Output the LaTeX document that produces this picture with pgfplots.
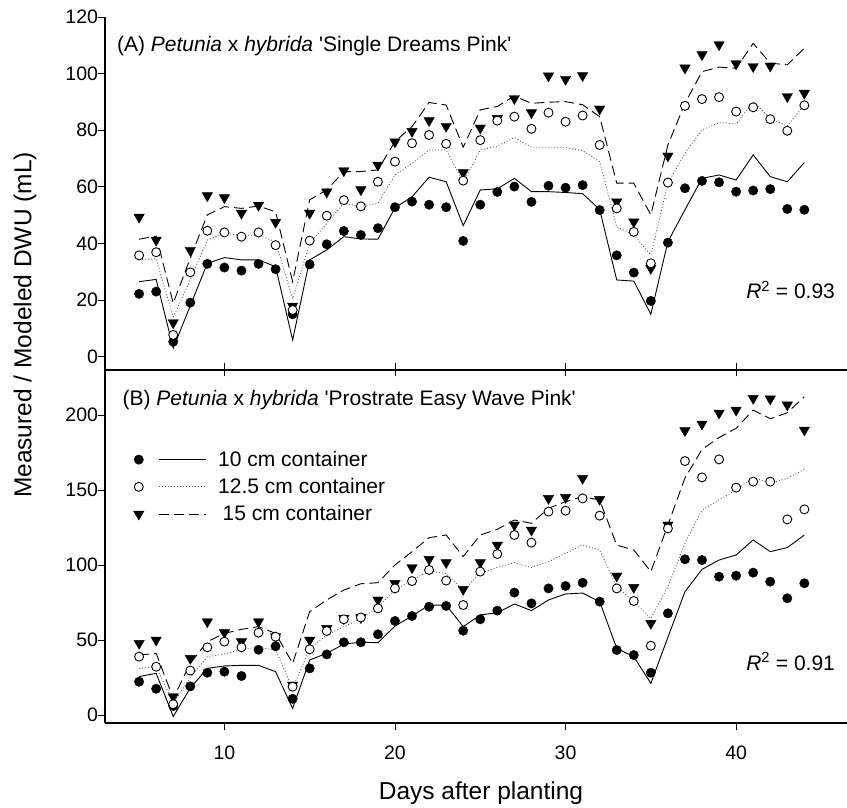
\documentclass[border=0pt]{standalone}
\usepackage{fontspec}
\setmainfont{Liberation Sans}
\usepackage{pgfplots}
\pgfplotsset{compat=1.18}
\usepackage{pgfplotstable}

% day, measured (m) and modeled (s) DWU for 10, 12.5 and 15 cm containers
\pgfplotstableread{
day m10 m125 m15 s10 s125 s15
5 22.2 35.8 49.3 26.5 34.3 41.5
6 23.0 36.9 41.2 27.3 34.6 42.6
7 5.3 7.7 12.0 3.0 14.0 18.9
8 19.1 29.8 37.6 18.0 27.1 34.8
9 32.8 44.5 56.9 33.0 41.2 50.1
10 31.5 43.9 56.2 35.0 43.6 53.0
11 30.4 42.4 50.7 34.2 42.9 52.4
12 32.8 43.9 53.5 34.2 42.9 53.2
13 30.9 39.4 47.5 31.8 40.6 51.2
14 15.0 16.5 17.9 5.9 20.5 26.5
15 32.6 41.0 50.7 34.2 40.0 55.4
16 39.7 49.8 58.2 37.7 47.1 58.9
17 44.4 55.3 65.7 42.4 54.2 65.4
18 43.0 53.1 59.0 41.6 53.0 65.4
19 45.4 61.8 67.7 41.5 54.2 66.0
20 52.8 68.9 75.9 52.6 64.2 76.0
21 54.8 75.4 79.6 56.5 68.3 81.3
22 53.7 78.3 83.4 63.4 73.0 89.8
23 52.8 75.2 81.4 61.8 73.0 88.9
24 40.9 62.2 65.0 46.3 61.8 74.0
25 53.7 76.5 80.8 58.9 73.0 87.2
26 58.2 83.4 84.2 59.3 74.4 88.4
27 60.1 84.8 91.2 63.0 77.4 92.1
28 54.7 80.5 86.2 58.3 74.0 89.5
29 60.4 86.2 99.2 58.3 74.0 89.9
30 59.7 83.0 98.0 58.0 73.9 90.1
31 60.6 85.2 99.3 57.6 72.8 89.0
32 51.8 74.8 87.5 52.0 68.9 84.8
33 35.8 52.4 54.7 27.1 45.9 61.3
34 29.7 44.1 47.6 26.7 43.0 61.3
35 19.7 33.0 31.2 15.0 35.9 50.1
36 40.3 61.5 70.9 40.6 61.3 74.8
37 59.5 88.6 102.0 51.9 71.9 89.5
38 62.1 91.0 106.7 63.0 80.1 100.7
39 61.6 91.7 110.2 64.2 82.7 102.3
40 58.3 86.6 103.5 62.4 82.2 101.9
41 58.7 88.1 102.5 71.3 90.1 110.7
42 59.2 83.9 102.7 63.6 84.2 103.7
43 52.2 79.8 91.9 61.8 81.5 103.1
44 51.9 88.8 93.1 68.6 88.9 109.0
}\singledreams

\pgfplotstableread{
day m10 m125 m15 s10 s125 s15
5 22.2 38.9 47.8 25.6 31.1 40.0
6 17.5 32.2 50.0 27.8 32.2 41.1
7 6.0 7.2 12.2 -1.0 8.0 11.1
8 19.1 29.6 37.8 18.0 25.0 34.4
9 28.2 45.1 62.2 31.1 38.9 48.9
10 28.9 48.9 54.9 32.7 40.7 54.4
11 26.0 45.1 48.9 33.1 43.8 57.1
12 43.5 54.9 62.2 33.1 45.1 58.9
13 45.8 52.2 52.2 28.9 43.3 54.4
14 10.8 18.9 20.0 4.4 17.8 34.4
15 31.1 43.8 50.0 36.7 44.4 68.9
16 40.4 56.0 57.8 41.1 53.3 76.7
17 48.5 63.8 64.4 47.3 58.9 83.3
18 48.5 65.0 64.9 48.5 64.0 87.5
19 53.8 71.1 76.7 48.2 72.0 88.2
20 62.7 84.4 87.8 59.3 83.3 100.0
21 66.0 89.3 98.2 66.0 90.0 108.9
22 72.2 96.7 103.8 73.3 96.0 118.2
23 72.7 89.6 101.6 73.3 94.4 120.0
24 56.2 73.3 83.8 58.9 83.3 105.6
25 63.8 95.6 101.6 66.7 94.4 120.0
26 69.6 107.3 113.3 68.2 98.4 123.8
27 81.6 120.0 126.7 74.0 101.6 130.0
28 74.4 114.9 123.3 69.6 98.4 127.8
29 84.4 135.6 144.4 76.7 102.2 137.8
30 86.0 136.2 145.1 80.7 107.8 142.2
31 88.2 144.4 157.8 81.3 113.3 145.6
32 75.6 132.9 143.8 75.6 110.0 143.3
33 43.3 84.4 92.7 44.4 85.6 113.3
34 40.0 76.0 85.1 38.9 75.6 110.0
35 28.2 46.2 61.1 21.1 64.4 95.6
36 67.8 124.4 126.7 51.8 85.6 126.7
37 103.8 169.3 189.6 82.2 114.4 158.0
38 103.3 158.4 194.0 97.1 136.7 177.0
39 92.2 170.4 201.3 103.3 143.3 185.0
40 92.9 151.6 203.3 106.7 150.0 191.1
41 94.9 155.6 211.1 116.7 158.4 203.3
42 88.9 155.6 210.7 108.9 154.4 197.5
43 77.8 130.4 206.7 111.6 157.8 201.5
44 87.8 137.1 190.0 120.0 163.8 212.2
}\easywave

\pgfplotsset{
  panel/.style={
    scale only axis, width=742pt, height=353pt,
    xmin=3, xmax=46.5,
    axis line style={line width=1.1pt},
    tick style={line width=0.9pt, black},
    major tick length=6.5pt,
    tick align=outside,
    xtick={10,20,30,40},
    /pgf/number format/assume math mode=true,
    tick label style={font=\fontsize{19.5}{22}\selectfont},
    yticklabel style={xshift=3pt},
  },
  meas10/.style={only marks, mark=*, mark size=4.7pt,
    mark options={draw=black, fill=black}},
  meas125/.style={only marks, mark=*, mark size=4.5pt,
    mark options={draw=black, fill=white, line width=0.9pt}},
  meas15/.style={only marks, mark=triangle*, mark size=6pt,
    mark options={draw=black, fill=black, rotate=180}},
  mod10/.style={no marks, black, line width=0.9pt},
  mod125/.style={no marks, black!65, line width=0.9pt, dash pattern=on 0.9pt off 2.1pt},
  mod15/.style={no marks, black, line width=0.9pt, dash pattern=on 10pt off 5pt},
}

\begin{document}
\begin{tikzpicture}
\path[use as bounding box] (0pt,0pt) rectangle (847pt,807pt);

% (A) Single Dreams Pink
\begin{axis}[panel, at={(105pt,437pt)}, anchor=south west,
  axis lines*=left,
  ymin=-4.7, ymax=120, ytick={0,20,...,120},
  xticklabels={}]
\addplot[meas10] table[x=day, y=m10] {\singledreams};
\addplot[meas15] table[x=day, y=m15] {\singledreams};
\addplot[meas125] table[x=day, y=m125] {\singledreams};
\addplot[mod10] table[x=day, y=s10] {\singledreams};
\addplot[mod125] table[x=day, y=s125] {\singledreams};
\addplot[mod15] table[x=day, y=s15] {\singledreams};
\node[anchor=west, inner sep=0pt, font=\fontsize{21}{24}\selectfont]
  at (rel axis cs:0.016,0.918)
  {(A) \textit{Petunia} x \textit{hybrida} \textquotesingle Single Dreams Pink\textquotesingle};
\node[anchor=east, inner sep=0pt, font=\fontsize{21}{24}\selectfont]
  at (rel axis cs:0.984,0.227) {\textit{R}\textsuperscript{2} = 0.93};
\end{axis}

% (B) Prostrate Easy Wave Pink
\begin{axis}[panel, at={(105pt,84pt)}, anchor=south west,
  axis x line*=box, axis y line*=left,
  ymin=-5.33, ymax=230, ytick={0,50,...,200},
  xticklabel style={yshift=-13pt},
  legend style={at={(rel axis cs:0.038,0.776)}, anchor=north west,
    draw=none, fill=none, inner sep=0pt, row sep=6.5pt,
    font=\fontsize{21}{24}\selectfont},
  legend cell align=left]
\addplot[meas10, forget plot] table[x=day, y=m10] {\easywave};
\addplot[meas15, forget plot] table[x=day, y=m15] {\easywave};
\addplot[meas125, forget plot] table[x=day, y=m125] {\easywave};
\addplot[mod10, forget plot] table[x=day, y=s10] {\easywave};
\addplot[mod125, forget plot] table[x=day, y=s125] {\easywave};
\addplot[mod15, forget plot] table[x=day, y=s15] {\easywave};
\addlegendimage{legend image code/.code={
  \fill[black] (0pt,0pt) circle[radius=4.7pt];
  \draw[black, line width=0.9pt] (20pt,0pt) -- (67pt,0pt);}}
\addlegendimage{legend image code/.code={
  \draw[black, fill=white, line width=0.9pt] (0pt,0pt) circle[radius=4.5pt];
  \draw[black!65, line width=0.9pt, dash pattern=on 0.9pt off 2.1pt] (20pt,0pt) -- (67pt,0pt);}}
\addlegendimage{legend image code/.code={
  \fill[black] (0pt,-6pt) -- (5.2pt,3pt) -- (-5.2pt,3pt) -- cycle;
  \draw[black, line width=0.9pt, dash pattern=on 10pt off 5pt] (20pt,0pt) -- (67pt,0pt);}}
\legend{\hspace{10pt}10 cm container, \hspace{10pt}12.5 cm container, \hspace{14.5pt}15 cm container}
\node[anchor=west, inner sep=0pt, font=\fontsize{21}{24}\selectfont]
  at (rel axis cs:0.0235,0.915)
  {(B) \textit{Petunia} x \textit{hybrida} \textquotesingle Prostrate Easy Wave Pink\textquotesingle};
\node[anchor=east, inner sep=0pt, font=\fontsize{21}{24}\selectfont]
  at (rel axis cs:0.984,0.174) {\textit{R}\textsuperscript{2} = 0.91};
\end{axis}

\node[rotate=90, font=\fontsize{24.5}{29}\selectfont] at (25pt,482pt)
  {Measured / Modeled DWU (mL)};
\node[font=\fontsize{24.5}{29}\selectfont] at (481pt,14pt) {Days after planting};
\end{tikzpicture}
\end{document}
